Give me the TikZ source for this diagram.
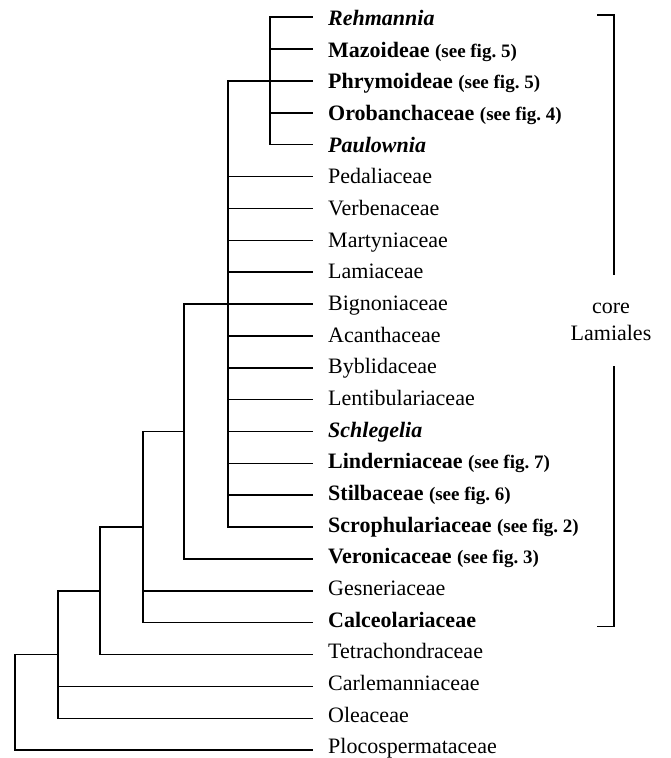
\documentclass[tikz,border=0pt]{standalone}
\usepackage{fontspec}
\setmainfont{Liberation Serif}
\newcommand{\seefig}[1]{{\fontsize{19}{21}\selectfont\bfseries(see fig.~#1)}}
\begin{document}
\begin{tikzpicture}[x=1pt,y=-31.87pt,
  br/.style={line width=1.5pt,line cap=rect},
  leaf/.style={anchor=west,inner xsep=16pt,inner ysep=0pt,text depth=0pt,font=\fontsize{22}{26}\selectfont}]
\useasboundingbox (0,-0.5397) rectangle (671,23.245);
% leaves
\foreach \i/\t in {
  0/{\textbf{\textit{Rehmannia}}},
  1/{\textbf{Mazoideae} \seefig{5}},
  2/{\textbf{Phrymoideae} \seefig{5}},
  3/{\textbf{Orobanchaceae} \seefig{4}},
  4/{\textbf{\textit{Paulownia}}},
  5/{Pedaliaceae},
  6/{Verbenaceae},
  7/{Martyniaceae},
  8/{Lamiaceae},
  9/{Bignoniaceae},
  10/{Acanthaceae},
  11/{Byblidaceae},
  12/{Lentibulariaceae},
  13/{\textbf{\textit{Schlegelia}}},
  14/{\textbf{Linderniaceae} \seefig{7}},
  15/{\textbf{Stilbaceae} \seefig{6}},
  16/{\textbf{Scrophulariaceae} \seefig{2}},
  17/{\textbf{Veronicaceae} \seefig{3}},
  18/{Gesneriaceae},
  19/{\textbf{Calceolariaceae}},
  20/{Tetrachondraceae},
  21/{Carlemanniaceae},
  22/{Oleaceae},
  23/{Plocospermataceae}} {
  \pgfmathsetmacro\h{16.4-0.4*\i}
  \node[leaf,text height=\h pt] (l\i) at (312,\i) {\t};
}
% internal nodes
\coordinate (nA) at (270,2);
\coordinate (nB) at (228,9);
\coordinate (nC) at (184,13);
\coordinate (nD) at (143,16);
\coordinate (nE) at (100,18);
\coordinate (nF) at (58,20);
% clade A
\draw[br] (l0.west) -| (270,4) -- (l4.west);
\foreach \i in {1,2,3} \draw[br] (270,\i) -- (l\i.west);
% polytomy B
\draw[br] (nA) -| (228,16) -- (l16.west);
\foreach \i in {5,...,15} \draw[br] (228,\i) -- (l\i.west);
% C
\draw[br] (nB) -| (184,17) -- (l17.west);
% D
\draw[br] (nC) -| (143,19) -- (l19.west);
\draw[br] (143,18) -- (l18.west);
% E
\draw[br] (nD) -| (100,20) -- (l20.west);
% F
\draw[br] (nE) -| (58,22) -- (l22.west);
\draw[br] (58,21) -- (l21.west);
% root
\draw[br] (nF) -| (15,23) -- (l23.west);
% bracket
\coordinate (bt) at (598,-0.069);
\coordinate (bb) at (598,19.125);
\node[align=center,font=\fontsize{22}{27}\selectfont,inner sep=0pt] (core) at (611,9.554) {core\\Lamiales};
\draw[br] (bt) -| (614,8.058);
\draw[br] (614,10.966) |- (bb);
\end{tikzpicture}
\end{document}
